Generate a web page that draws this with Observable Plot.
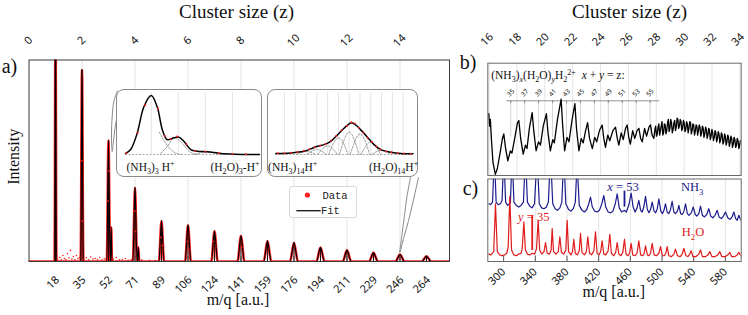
<!DOCTYPE html>
<html><head><meta charset="utf-8">
<script src="https://cdn.jsdelivr.net/npm/d3@7"></script>
<script src="https://cdn.jsdelivr.net/npm/@observablehq/plot@0.6"></script>
<style>
html,body{margin:0;padding:0;background:#fff;}
#chart{position:relative;width:748px;height:315px;overflow:hidden;background:#fff;}
.box{position:absolute;box-sizing:border-box;border:1px solid #8a8a8a;border-radius:8px;background:#fff;}
.legend{position:absolute;box-sizing:border-box;border:1px solid #d8d8d8;border-radius:3px;background:#fff;}
</style></head><body><div id="chart"></div><script>
// ---------------- DATA ----------------
const zTicksLeft = [0, 2, 4, 6, 8, 10, 12, 14];
const zTicksRight = [16, 18, 20, 22, 24, 26, 28, 30, 32, 34];
const mzPerZ = 17.6;
// panel a) peaks
const peakMz = [17.6, 35.2, 52.8, 70.4, 88, 105.6, 123.2, 140.8, 158.4, 176, 193.6, 211.2, 228.8, 246.4, 264];
const peakLabels = ["18","35","52","71","89","106","124","141","159","176","194","211","229","246","264"];
const peakI = [1.3, 0.951, 0.60, 0.366, 0.201, 0.18, 0.15, 0.126, 0.101, 0.093, 0.069, 0.055, 0.043, 0.035, 0.026];
const peakHalfW = [0.6, 0.9, 1.1, 1.4, 1.7, 1.9, 2.1, 2.3, 2.5, 2.6, 2.7, 2.8, 2.9, 3.0, 3.1];
const shoulderMz = [54.6, 72.6];
const shoulderI = [0.17, 0.07];
const shoulderHalfW = [0.5, 0.6];
const noisePts = [[19,0.012],[20.5,0.02],[21.5,0.008],[22.5,0.03],[23.5,0.015],[24.5,0.01],[25.5,0.04],[26.5,0.018],[27.5,0.055],[28.5,0.012],[29.5,0.025],[30.5,0.009],[31.5,0.03],[32.5,0.014],[33.5,0.02],[36.5,0.01],[38,0.018],[39.5,0.008],[41,0.022],[42.5,0.012],[44,0.015],[45.5,0.01],[47,0.02],[48.5,0.008],[50,0.014],[51,0.01],[56,0.012],[58,0.02],[60,0.008],[62,0.01],[64,0.015],[66,0.006],[68,0.01],[75,0.008],[80,0.006],[84,0.005]];
const peakDataDots = [[35.0,0.5],[35.4,0.2],[52.6,0.3],[53.0,0.45],[70.2,0.25],[70.7,0.15],[87.6,0.12],[88.5,0.08],[105.2,0.1],[106.1,0.06],[122.6,0.1],[141.4,0.07]];
// callouts (main-panel data coords)
const callout1 = [[58.8,0.848],[56.5,0.80],[55.1,0.70],[54.8,0.60],[55.3,0.546],[55.8,0.576],[57.1,0.66],[59.4,0.749],[62.1,0.814]];
const callout2 = [[253.4,0.417],[251,0.32],[249.4,0.228],[247.5,0.12],[246.3,0.045],[249,0.12],[252.1,0.203],[255.5,0.31],[258.7,0.417]];
// inset 1 (around z = 3)
const inset1Grid = [52, 53, 54, 55];
const inset1Fit = [[51.05,0.016],[51.24,0.08],[51.48,0.34],[51.73,0.77],[52.0,0.95],[52.22,0.77],[52.41,0.40],[52.59,0.24],[52.84,0.27],[53.02,0.28],[53.21,0.21],[53.46,0.08],[53.7,0.053],[54.07,0.044],[54.57,0.016],[55.06,0.005],[56.0,0.0]];
const inset1Data = [[51.08,0.02],[51.5,0.35],[51.78,0.8],[52.25,0.74],[52.5,0.3],[52.72,0.25],[52.95,0.29],[53.3,0.17],[53.62,0.06],[54.0,0.046],[54.5,0.02],[55.0,0.006],[55.5,0.003]];
const inset1Comp = [
  {k:"a", pts:[[52.3,0.36],[52.55,0.17],[52.8,0.05],[53.1,0.0]]},
  {k:"b", pts:[[52.35,0.02],[52.6,0.13],[52.85,0.27],[53.1,0.2],[53.4,0.05],[53.7,0.0]]},
  {k:"c", pts:[[53.6,0.0],[54.1,0.04],[54.6,0.0]]}
];
// inset 2 (around z = 14)
const inset2Grid = [239,240,241,242,243,244,245,246,247,248,249,250];
const inset2Fit = [[238.2,0.016],[239.59,0.026],[240.82,0.053],[241.44,0.09],[242.06,0.132],[242.67,0.159],[243.29,0.212],[243.91,0.317],[244.52,0.423],[245.21,0.513],[245.61,0.476],[246.07,0.397],[246.69,0.28],[247.3,0.159],[247.92,0.079],[248.85,0.037],[249.77,0.016],[250.9,0.011]];
const inset2Data = [[238.4,0.02],[239.0,0.018],[239.6,0.03],[240.2,0.04],[240.8,0.06],[241.3,0.085],[241.8,0.12],[242.3,0.14],[242.8,0.17],[243.3,0.22],[243.8,0.3],[244.3,0.39],[244.8,0.46],[245.2,0.52],[245.5,0.5],[245.9,0.43],[246.3,0.35],[246.7,0.27],[247.1,0.2],[247.5,0.13],[247.9,0.08],[248.4,0.05],[248.9,0.035],[249.5,0.02],[250.1,0.015],[250.7,0.012]];
const inset2CompMz = [241, 242, 243, 244, 245, 246, 247, 248];
const inset2CompI = [0.05, 0.08, 0.14, 0.27, 0.36, 0.33, 0.2, 0.07];
// panel b)
const bLabelZ = [35, 37, 39, 41, 43, 45, 47, 49, 51, 53, 55];
const bLabelMz = [309, 326.6, 344.2, 361.8, 379.4, 397, 414.6, 432.2, 449.8, 467.4, 485];
const bSpectrum = [[281.3,0.55],[282.3,0.44],[283.2,0.5],[284.5,0.33],[286.5,0.12],[289.5,0.01],[292,0.06],[295.5,0.2],[298.5,0.33],[300.2,0.37],[302.3,0.25],[305.3,0.13],[308.5,0.22],[310.5,0.2],[314,0.33],[317.5,0.47],[319.2,0.49],[321.5,0.33],[324.7,0.19],[327.5,0.27],[329.5,0.24],[332.5,0.42],[336,0.56],[338,0.4],[341,0.22],[344,0.3],[346.5,0.27],[350,0.44],[354,0.55],[356,0.38],[359,0.22],[362,0.32],[364,0.29],[368,0.5],[372.6,0.68],[374.5,0.45],[377,0.22],[380,0.34],[382.5,0.3],[386.5,0.5],[390,0.64],[392,0.42],[395,0.22],[398,0.33],[400.5,0.29],[403.5,0.4],[406,0.47],[408.5,0.33],[412,0.24],[415,0.34],[417.5,0.3],[421,0.4],[424.4,0.45],[426.5,0.33],[428.6,0.25],[431.5,0.36],[434,0.31],[438,0.4],[441.3,0.43],[443.5,0.33],[445.5,0.27],[448.5,0.38],[451,0.32],[454,0.42],[456,0.45],[458,0.34],[460,0.28],[463,0.4],[465.5,0.33],[468.5,0.4],[470.8,0.42],[473,0.33],[475,0.3],[478,0.42],[480.5,0.35],[483.5,0.43],[485.5,0.45],[487.5,0.36],[489.7,0.33],[491,0.41],[492,0.44],[493,0.35],[494,0.37],[495,0.43],[496,0.46],[497,0.36],[498,0.4],[499,0.44],[500,0.48],[501,0.36],[502,0.38],[503,0.46],[504,0.45],[505,0.37],[506,0.4],[507,0.47],[508,0.5],[509,0.39],[510,0.42],[511,0.5],[512,0.47],[513,0.38],[514,0.41],[515,0.47],[516,0.49],[517,0.4],[518,0.43],[519,0.51],[520,0.5],[521,0.42],[522,0.44],[523,0.5],[524,0.48],[525,0.4],[526,0.42],[527,0.49],[528,0.47],[529,0.39],[530,0.41],[531,0.48],[532,0.46],[533,0.38],[534,0.42],[535,0.48],[536,0.47],[537,0.37],[538,0.4],[539,0.46],[540,0.45],[541,0.36],[542,0.39],[543,0.45],[544,0.44],[545,0.36],[546,0.4],[547,0.45],[548,0.43],[549,0.35],[550,0.38],[551,0.44],[552,0.42],[553,0.34],[554,0.37],[555,0.43],[556,0.41],[557,0.33],[558,0.36],[559,0.42],[560,0.4],[561,0.32],[562,0.35],[563,0.41],[564,0.38],[565,0.31],[566,0.34],[567,0.4],[568,0.38],[569,0.3],[570,0.33],[571,0.39],[572,0.37],[573,0.29],[574,0.32],[575,0.38],[576,0.36],[577,0.28],[578,0.3],[579,0.37],[580,0.35],[581,0.27],[582,0.3],[583,0.36],[584,0.34],[585,0.26],[586,0.29],[587,0.35],[588,0.33],[589,0.25],[590,0.28],[591,0.34],[592,0.32],[593,0.25],[594,0.27],[595,0.33],[596,0.31],[597,0.24],[598,0.27],[599,0.31],[600,0.29]];
// panel c)
const cTicks = [300, 340, 380, 420, 460, 500, 540, 580];
const cBlue = [[281.3,0.70],[283.5,0.69],[286,0.72],[288.4,1.3],[290.5,0.72],[293,0.69],[296,0.7],[298,0.74],[300.2,1.3],[302.5,0.72],[305,0.68],[308.5,0.71],[310.75,1.3],[313,0.72],[316,0.68],[319,0.66],[322,0.68],[325,0.72],[327.6,1.3],[330,0.72],[333,0.67],[336,0.65],[339,0.7],[342.3,1.3],[345,0.7],[348,0.65],[351,0.64],[354,0.66],[356.5,0.72],[359.2,1.3],[362,0.7],[365,0.64],[368,0.62],[371,0.65],[373.5,0.72],[376,1.3],[378.5,0.7],[382,0.63],[385,0.61],[388,0.64],[390.5,0.72],[392.8,1.2],[395.5,0.68],[399,0.62],[402,0.6],[405,0.63],[407.5,0.7],[409.7,0.78],[412,0.66],[415,0.61],[418,0.6],[421,0.62],[424,0.7],[426.5,0.8],[429,0.66],[432,0.6],[435,0.59],[438,0.61],[441,0.7],[443.4,0.82],[446,0.65],[449,0.6],[452.6,0.62],[455,0.6],[458.5,0.7],[461,0.83],[463.5,0.66],[466,0.6],[468.5,0.65],[470.7,0.74],[473,0.62],[475,0.6],[477,0.66],[479.2,0.79],[481.5,0.63],[483.5,0.59],[485.5,0.63],[487.6,0.72],[490,0.61],[492,0.59],[494,0.64],[496,0.76],[498.5,0.61],[500.5,0.58],[502.5,0.62],[504.4,0.7],[506.5,0.6],[508.5,0.58],[510.5,0.62],[512.8,0.73],[515,0.6],[517,0.58],[519.5,0.61],[521.3,0.68],[523.5,0.58],[525.5,0.57],[527.5,0.6],[529.7,0.7],[532,0.58],[534,0.56],[537,0.59],[539.4,0.66],[542,0.57],[544,0.55],[546.5,0.58],[548.6,0.67],[551,0.56],[553.5,0.54],[556.5,0.57],[559.1,0.64],[561.5,0.55],[564,0.53],[567,0.56],[569.7,0.62],[572,0.54],[575,0.52],[577.5,0.55],[580.2,0.6],[583,0.53],[586,0.51],[588.5,0.54],[590.7,0.6],[593,0.52],[595,0.5],[597,0.56],[599.5,0.5]];
const cRed = [[281.3,0.09],[284,0.08],[287.5,0.12],[289.7,0.70],[292,0.12],[295,0.08],[298,0.07],[301,0.08],[304,0.1],[305.8,0.18],[307.8,0.79],[310,0.14],[313,0.08],[316,0.07],[319,0.09],[322,0.1],[323.5,0.16],[325.5,0.48],[327.5,0.14],[330,0.09],[333,0.08],[336,0.1],[339,0.09],[341.5,0.15],[343.6,0.50],[345.5,0.14],[348,0.09],[351,0.12],[352.9,0.23],[355,0.1],[358,0.09],[360,0.14],[361.3,0.40],[363,0.12],[366,0.09],[369,0.12],[371,0.30],[373,0.11],[376,0.09],[378.5,0.14],[380.2,0.50],[382,0.12],[385,0.08],[387,0.12],[388.6,0.27],[390.5,0.1],[393,0.08],[395.5,0.13],[397.1,0.34],[399,0.11],[402,0.08],[404.5,0.12],[406.3,0.30],[408.5,0.1],[411,0.08],[414,0.13],[416,0.36],[418,0.1],[420.5,0.08],[422.5,0.12],[424.4,0.25],[426.5,0.09],[429,0.08],[432,0.13],[434.1,0.33],[436,0.1],[439,0.07],[441.5,0.11],[443.4,0.23],[445.5,0.09],[448,0.07],[450.5,0.11],[452.6,0.27],[454.5,0.09],[457,0.07],[459,0.1],[461,0.22],[463,0.08],[466,0.07],[468.5,0.1],[470.7,0.25],[473,0.08],[475.5,0.07],[477.5,0.1],[479.2,0.19],[481.5,0.08],[483.5,0.07],[485.5,0.1],[487.6,0.22],[490,0.08],[493,0.07],[496,0.1],[498.1,0.18],[500.5,0.07],[503,0.07],[504.8,0.1],[506.5,0.18],[508.5,0.07],[512,0.06],[515,0.09],[517,0.15],[519.5,0.07],[523,0.06],[525.5,0.09],[527.6,0.16],[530,0.07],[533,0.06],[535,0.09],[536.8,0.13],[539,0.06],[543,0.06],[546.5,0.09],[548.6,0.14],[551,0.06],[555,0.06],[558,0.08],[560.4,0.12],[563,0.06],[567,0.06],[570.5,0.08],[573,0.12],[575.5,0.06],[580,0.06],[583,0.08],[585.7,0.11],[588,0.06],[592,0.06],[595,0.08],[597,0.11],[599.5,0.07]];
const cMarkers = [{m:452.6, I1:0.66, I2:0.853, c:"#1c1c8c"}, {m:336.1, I1:0.133, I2:0.558, c:"#e01b1b"}];
const cNotes = [{m:450.7, I:0.90, t:"*x* = 53", c:"#1c1c8c"}, {m:538.1, I:0.90, t:"NH_{3}", c:"#1c1c8c"}, {m:338.1, I:0.537, t:"*y* = 35", c:"#e01b1b"}, {m:539.1, I:0.355, t:"H_{2}O", c:"#e01b1b"}];

// ---------------- STYLE ----------------
const SERIF = "'Liberation Serif','DejaVu Serif',serif";
const SANS = "'Noto Sans','DejaVu Sans',sans-serif";
const MONO = "'Liberation Mono','DejaVu Sans Mono',monospace";
const GRID = "#e4e4e4";
const RED = "#ff1f1f";
const TR = {background:"transparent", overflow:"visible"};
const X0 = d => d[0], Y1 = d => d[1];
const chart = document.getElementById("chart");
function place(el, left, top){ el.style.position="absolute"; el.style.left=left+"px"; el.style.top=top+"px"; el.style.background="transparent"; el.style.overflow="visible"; chart.appendChild(el); return el; }
function box(cls, l, t, w, h){ const d=document.createElement("div"); d.className=cls; d.style.left=l+"px"; d.style.top=t+"px"; d.style.width=w+"px"; d.style.height=h+"px"; chart.appendChild(d); return d; }
function peaksToPts(c, h, w){ const out=[]; c.forEach((m,i)=>out.push({m:m-w[i],I:0},{m,I:h[i]},{m:m+w[i],I:0})); return out; }

// ---------------- PANEL a) ----------------
const fitPts = [{m:0,I:0}, ...[...peaksToPts(peakMz,peakI,peakHalfW), ...peaksToPts(shoulderMz,shoulderI,shoulderHalfW)].sort((a,b)=>a.m-b.m), {m:279.3,I:0}];
const txt = (o) => Object.assign({fill:"#111", lineAnchor:"middle", stroke:null}, o);
const oneDigit = zTicksLeft.filter(z=>z<10), twoDigit = zTicksLeft.filter(z=>z>=10);
const A = Plot.plot({
  width:460, height:315, marginLeft:28.5, marginRight:11, marginTop:59.5, marginBottom:54,
  x:{domain:[0,279.3], axis:null}, y:{domain:[0,1], axis:null}, style:TR,
  marks:[
    Plot.ruleX(zTicksLeft.slice(1), {x:z=>z*mzPerZ, stroke:GRID}),
    Plot.ruleX(peakMz, {x:d=>d, y1:0, y2:0.025, stroke:"#777"}),
    Plot.line(fitPts, {x:"m", y:"I", curve:"monotone-x", stroke:RED, strokeWidth:2.6, clip:true}),
    Plot.line(fitPts, {x:"m", y:"I", curve:"monotone-x", stroke:"#000", strokeWidth:1.1, clip:true}),
    Plot.ruleX(peakMz.map((m,i)=>({m, I:peakI[i]})), {x:"m", y1:0, y2:"I", stroke:"#000", strokeWidth:0.9, clip:true}),
    Plot.dot(noisePts, {x:X0, y:Y1, r:0.8, fill:RED, stroke:null}),
    Plot.dot(peakDataDots, {x:X0, y:Y1, r:0.9, fill:RED, stroke:null}),
    Plot.line(callout1, {x:X0, y:Y1, curve:"catmull-rom", stroke:"#8a8a8a", strokeWidth:1}),
    Plot.line(callout2, {x:X0, y:Y1, curve:"catmull-rom", stroke:"#8a8a8a", strokeWidth:1}),
    Plot.frame({stroke:"#3a3a3a"}),
    Plot.text(oneDigit, txt({x:z=>z*mzPerZ, y:0, text:z=>String(z), textAnchor:"end", rotate:-45, dx:1.7, dy:-223.2, fontFamily:SANS, fontSize:11})),
    Plot.text(twoDigit, txt({x:z=>z*mzPerZ, y:0, text:z=>String(z), textAnchor:"end", rotate:-45, dx:3.95, dy:-225.45, fontFamily:SANS, fontSize:11})),
    Plot.text(peakMz, txt({x:d=>d, y:0, text:(d,i)=>peakLabels[i], textAnchor:"end", rotate:-45, dx:2, dy:16.5, fontFamily:SANS, fontSize:11})),
    Plot.text(["Intensity"], txt({text:d=>d, frameAnchor:"left", textAnchor:"middle", rotate:-90, dx:-15, dy:-4, fontFamily:SERIF, fontSize:16})),
    Plot.text(["m/q [a.u.]"], txt({text:d=>d, frameAnchor:"bottom", textAnchor:"middle", dx:-1.25, dy:38, fontFamily:SERIF, fontSize:16})),
    Plot.text(["Cluster size (z)"], txt({text:d=>d, frameAnchor:"top", textAnchor:"middle", dx:-2.75, dy:-48.5, fontFamily:SERIF, fontSize:19})),
    Plot.text(["a)"], txt({text:d=>d, frameAnchor:"top-left", textAnchor:"middle", dx:-19.5, dy:6.5, fontFamily:SERIF, fontSize:20}))
  ]
});
place(A, 0, 0);

// ---------------- PANEL b) ----------------
const B = Plot.plot({
  width:293, height:176, marginLeft:32.3, marginRight:7.3, marginTop:62.7, marginBottom:1,
  x:{domain:[280,600], axis:null}, y:{domain:[0,1], axis:null}, style:TR,
  marks:[
    Plot.ruleX(zTicksRight, {x:z=>z*mzPerZ, stroke:GRID}),
    Plot.ruleX(bLabelMz, {x:d=>d, y1:0.34, y2:0.665, stroke:"#d4d4d4"}),
    Plot.ruleY([0.665], {x1:d3.min(bLabelMz)-5, x2:d3.max(bLabelMz)+12, stroke:"#777", strokeWidth:0.8}),
    Plot.ruleX(bLabelMz, {x:d=>d, y1:0.665, y2:0.64, stroke:"#777", strokeWidth:0.8}),
    Plot.text(bLabelZ, txt({x:(d,i)=>bLabelMz[i], y:0.665, text:d=>String(d), rotate:-45, textAnchor:"end", dx:2.6, dy:-10.6, fontFamily:SANS, fontSize:6.5})),
    Plot.line(bSpectrum, {x:X0, y:Y1, stroke:"#000", strokeWidth:1.3, clip:true}),
    Plot.frame({stroke:"#6a6a6a"}),
    Plot.text(["(NH_{3})_{*x*}(H_{2}O)_{*y*}H_{2}^{2+}\u00a0\u00a0*x* + *y* = z:"], txt({text:d=>d, frameAnchor:"top-left", textAnchor:"start", dx:3.4, dy:12.3, fontFamily:SERIF, fontSize:11.5})),
    Plot.text(zTicksRight, txt({x:z=>z*mzPerZ, y:0, text:z=>String(z), textAnchor:"end", rotate:-45, dx:2.45, dy:-140.45, fontFamily:SANS, fontSize:11})),
    Plot.text(["Cluster size (z)"], txt({text:d=>d, frameAnchor:"top", textAnchor:"middle", dx:15, dy:-51.7, fontFamily:SERIF, fontSize:19})),
    Plot.text(["b)"], txt({text:d=>d, frameAnchor:"top-left", textAnchor:"middle", dx:-19.8, dy:-0.7, fontFamily:SERIF, fontSize:20}))
  ]
});
place(B, 455, 0);

// ---------------- PANEL c) ----------------
const C = Plot.plot({
  width:293, height:139, marginLeft:32.3, marginRight:7.3, marginTop:2.5, marginBottom:54,
  x:{domain:[280,600], axis:null}, y:{domain:[0,1], axis:null}, style:TR,
  marks:[
    Plot.ruleX(cTicks.slice(1), {x:d=>d, stroke:GRID}),
    Plot.ruleX(cTicks, {x:d=>d, y1:0, y2:0.065, stroke:"#555"}),
    Plot.line(cBlue, {x:X0, y:Y1, stroke:"#1c1c8c", strokeWidth:1.2, clip:true}),
    Plot.line(cRed, {x:X0, y:Y1, stroke:"#e01b1b", strokeWidth:1.2, clip:true}),
    Plot.ruleX(cMarkers, {x:"m", y1:"I1", y2:"I2", stroke:"c", strokeWidth:1.8}),
    Plot.text(cNotes, txt({x:"m", y:"I", text:"t", fill:"c", textAnchor:"middle", fontFamily:SERIF, fontSize:12.5})),
    Plot.frame({stroke:"#6a6a6a"}),
    Plot.text(cTicks, txt({x:d=>d, y:0, text:d=>String(d), textAnchor:"end", rotate:-45, dx:0, dy:8.5, fontFamily:SANS, fontSize:11})),
    Plot.text(["m/q [a.u.]"], txt({text:d=>d, frameAnchor:"bottom", textAnchor:"middle", dx:-0.7, dy:30, fontFamily:SERIF, fontSize:16})),
    Plot.text(["c)"], txt({text:d=>d, frameAnchor:"top-left", textAnchor:"middle", dx:-17.3, dy:9.5, fontFamily:SERIF, fontSize:20}))
  ]
});
place(C, 455, 176);

// ---------------- INSETS ----------------
box("box", 116, 89.3, 146, 87.4);
const I1 = Plot.plot({
  width:146, height:87, marginLeft:9, marginRight:3, marginTop:3, marginBottom:22,
  x:{domain:[51.05,56.0], axis:null}, y:{domain:[0,1], axis:null}, style:TR,
  marks:[
    Plot.ruleX(inset1Grid, {x:d=>d, stroke:GRID}),
    Plot.ruleY([0], {stroke:"#aaa", strokeDasharray:"2,1.5"}),
    ...inset1Comp.map(c => Plot.line(c.pts, {x:X0, y:Y1, curve:"monotone-x", stroke:"#999", strokeWidth:1, strokeDasharray:"2,1.5"})),
    Plot.line(inset1Fit, {x:X0, y:Y1, curve:"catmull-rom", stroke:"#000", strokeWidth:1.5}),
    Plot.dot(inset1Data, {x:X0, y:Y1, r:1, fill:RED, stroke:null}),
    Plot.text(["(NH_{3})_{3} H^{+}"], txt({text:d=>d, frameAnchor:"bottom-left", textAnchor:"start", dx:1, dy:12.7, fontFamily:SERIF, fontSize:11.5})),
    Plot.text(["(H_{2}O)_{3}-H^{+}"], txt({text:d=>d, frameAnchor:"bottom-right", textAnchor:"end", dx:0, dy:12.7, fontFamily:SERIF, fontSize:11.5}))
  ]
});
place(I1, 116, 89.3);

box("box", 266.7, 89.3, 151, 87.4);
const comp2 = [];
inset2CompMz.forEach((c,i)=>comp2.push({k:i,m:c-0.9,I:0},{k:i,m:c,I:inset2CompI[i]},{k:i,m:c+0.9,I:0}));
const I2 = Plot.plot({
  width:151, height:87, marginLeft:8.3, marginRight:5.6, marginTop:3, marginBottom:22,
  x:{domain:[238.2,250.9], axis:null}, y:{domain:[0,1], axis:null}, style:TR,
  marks:[
    Plot.ruleX(inset2Grid, {x:d=>d, stroke:GRID}),
    Plot.ruleY([0], {stroke:"#aaa", strokeDasharray:"2,1.5"}),
    Plot.line(comp2, {x:"m", y:"I", z:"k", curve:"monotone-x", stroke:"#999", strokeWidth:1, strokeDasharray:"2,1.5"}),
    Plot.line(inset2Fit, {x:X0, y:Y1, curve:"catmull-rom", stroke:"#000", strokeWidth:1.5}),
    Plot.dot(inset2Data, {x:X0, y:Y1, r:1, fill:RED, stroke:null}),
    Plot.text(["(NH_{3})_{14}H^{+}"], txt({text:d=>d, frameAnchor:"bottom-left", textAnchor:"start", dx:-7.7, dy:12.7, fontFamily:SERIF, fontSize:11.5})),
    Plot.text(["(H_{2}O)_{14}H^{+}"], txt({text:d=>d, frameAnchor:"bottom-right", textAnchor:"end", dx:5.3, dy:12.7, fontFamily:SERIF, fontSize:11.5}))
  ]
});
place(I2, 266.7, 89.3);

// ---------------- LEGEND ----------------
const lg = box("legend", 289.3, 186, 67.4, 32.3);
const ls = d3.create("svg").attr("width", 66).attr("height", 31).style("position","absolute").style("left","0px").style("top","0px");
ls.append("circle").attr("cx", 17.4).attr("cy", 8).attr("r", 2.6).attr("fill", RED);
ls.append("text").attr("x", 32.4).attr("y", 8).attr("dy","0.35em").attr("font-family", MONO).attr("font-size", 10.5).attr("fill","#222").text("Data");
ls.append("line").attr("x1", 6.4).attr("x2", 30.7).attr("y1", 23.7).attr("y2", 23.7).attr("stroke","#111").attr("stroke-width",1.3);
ls.append("text").attr("x", 31).attr("y", 23.7).attr("dy","0.35em").attr("font-family", MONO).attr("font-size", 10.5).attr("fill","#222").text("Fit");
lg.appendChild(ls.node());

// ---------------- rich text (sub/superscripts, italics) ----------------
function richify(root){
  root.querySelectorAll("text").forEach(t=>{
    const s=t.textContent;
    if(!/[_^*]/.test(s)) return;
    const fs=parseFloat(getComputedStyle(t).fontSize)||11;
    const runs=[]; let italic=false; let cur={mode:0,it:false,txt:""};
    const push=()=>{ if(cur.txt) runs.push(cur); };
    let i=0;
    while(i<s.length){
      const c=s[i];
      if((c==="_"||c==="^") && s[i+1]==="{"){
        push();
        const end=s.indexOf("}",i+2), inner=s.slice(i+2,end), mode=c==="_"?1:2;
        let it=italic, buf="";
        for(const ch of inner){ if(ch==="*"){ if(buf) runs.push({mode,it,txt:buf}); buf=""; it=!it; } else buf+=ch; }
        if(buf) runs.push({mode,it,txt:buf});
        cur={mode:0,it:italic,txt:""}; i=end+1; continue;
      }
      if(c==="*"){ push(); italic=!italic; cur={mode:0,it:italic,txt:""}; i++; continue; }
      cur.txt+=c; i++;
    }
    push();
    t.textContent=""; t.style.whiteSpace="pre";
    let shift=0;
    for(const r of runs){
      const ts=document.createElementNS("http://www.w3.org/2000/svg","tspan");
      const target=r.mode===1?0.28*fs:r.mode===2?-0.4*fs:0;
      const d=target-shift; if(d) ts.setAttribute("dy", d.toFixed(2)); shift=target;
      if(r.mode) ts.setAttribute("font-size",(0.7*fs).toFixed(2));
      if(r.it) ts.setAttribute("font-style","italic");
      ts.textContent=r.txt; t.appendChild(ts);
    }
  });
}
richify(chart);
</script></body></html>
